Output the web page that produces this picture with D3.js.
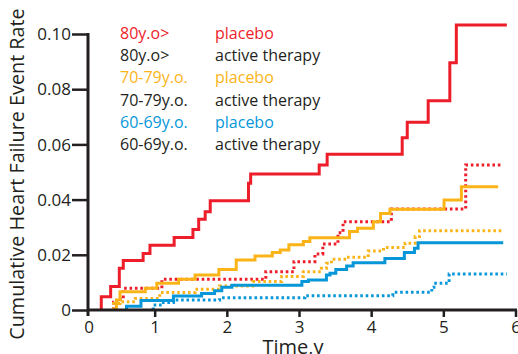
<!DOCTYPE html>
<html>
<head>
<meta charset="utf-8">
<script src="https://cdn.jsdelivr.net/npm/d3@7"></script>
<style>
  body { margin: 0; background: #fff; }
  text { font-family: "Open Sans", sans-serif; fill: #231f20; }
</style>
</head>
<body>
<div id="chart"></div>
<script>
// step data: [time (y), cumulative rate]
const red80Placebo = [[0.26,0],[0.26,0.0048],[0.39,0.0085],[0.51,0.0151],[0.565,0.0179],[0.84,0.0205],[0.935,0.0235],
  [1.27,0.0263],[1.53,0.0292],[1.61,0.0329],[1.70,0.0356],[1.77,0.0396],[2.30,0.0459],[2.33,0.0493],[3.28,0.0525],
  [3.39,0.0564],[4.43,0.0624],[4.50,0.068],[4.79,0.0758],[5.09,0.0896],[5.18,0.1033],[5.88,0.1033]];
const red80Active = [[0.43,0],[0.43,0.0028],[0.47,0.0039],[0.565,0.0079],[1.10,0.0111],[2.54,0.0139],[2.93,0.0175],
  [3.22,0.0203],[3.33,0.0239],[3.54,0.028],[3.61,0.032],[4.28,0.0366],[5.31,0.0525],[5.81,0.0525]];
const orange70Placebo = [[0.47,0],[0.47,0.0036],[0.52,0.0066],[0.87,0.0079],[1.03,0.0097],[1.33,0.0111],[1.56,0.0127],
  [1.89,0.0147],[2.13,0.0181],[2.39,0.0196],[2.63,0.0208],[2.74,0.0217],[2.86,0.0236],[3.06,0.0248],[3.15,0.0262],
  [3.70,0.0284],[3.81,0.0296],[4.03,0.032],[4.13,0.035],[4.26,0.0365],[5.01,0.0399],[5.25,0.0447],[5.76,0.0447]];
const orange70Active = [[0.43,0],[0.43,0.0024],[0.52,0.003],[0.73,0.0042],[1.07,0.0063],[1.56,0.0075],[1.90,0.0087],
  [2.36,0.0103],[2.76,0.0121],[3.06,0.0139],[3.31,0.0151],[3.38,0.0169],[3.45,0.0184],[3.66,0.0191],[3.96,0.0214],
  [4.17,0.0226],[4.47,0.0242],[4.61,0.0266],[4.67,0.0287],[5.81,0.0287]];
const blue60Placebo = [[0.61,0],[0.61,0.0014],[0.81,0.0034],[1.26,0.0051],[1.65,0.006],[1.83,0.007],[1.93,0.0082],
  [2.07,0.009],[3.04,0.0103],[3.13,0.0109],[3.38,0.0127],[3.43,0.0133],[3.51,0.0147],[3.66,0.0159],[3.75,0.0171],
  [4.19,0.0187],[4.46,0.0208],[4.60,0.0224],[4.65,0.0244],[5.83,0.0244]];
const blue60Active = [[0.98,0],[0.98,0.0018],[1.10,0.0027],[1.26,0.0036],[1.90,0.0044],[3.08,0.0052],[4.30,0.0064],
  [4.84,0.0082],[4.87,0.0097],[5.08,0.013],[5.88,0.013]];

const xTicks = [0, 1, 2, 3, 4, 5, 6];
const yTicks = [0, 0.02, 0.04, 0.06, 0.08, 0.10];
const legendAges = ["80y.o>", "80y.o>", "70-79y.o.", "70-79y.o.", "60-69y.o.", "60-69y.o."];
const legendArms = ["placebo", "active therapy", "placebo", "active therapy", "placebo", "active therapy"];

const RED = "#ee1d2a", ORANGE = "#fbb417", BLUE = "#0797d9", INK = "#231f20";
const series = [
  {data: red80Placebo, color: RED, dotted: false},
  {data: red80Active, color: RED, dotted: true},
  {data: orange70Placebo, color: ORANGE, dotted: false},
  {data: orange70Active, color: ORANGE, dotted: true},
  {data: blue60Placebo, color: BLUE, dotted: false},
  {data: blue60Active, color: BLUE, dotted: true}
];
const legendColors = [RED, INK, ORANGE, INK, BLUE, INK];

const width = 518, height = 354;
const axisX = 88;

const x = d3.scaleLinear().domain([0, 6]).range([82.5, 515.5]);
const y = d3.scaleLinear().domain([0, 0.10]).range([310, 34]);

const svg = d3.select('#chart').append('svg')
  .attr('width', width)
  .attr('height', height);

// curves (dotted ones underneath)
const line = d3.line()
  .x(d => x(d[0]))
  .y(d => y(d[1]))
  .curve(d3.curveStepAfter);

const drawOrder = [1, 3, 5, 4, 2, 0];
svg.append('g').selectAll('path')
  .data(drawOrder.map(i => series[i]))
  .join('path')
  .attr('d', d => line(d.data))
  .attr('fill', 'none')
  .attr('stroke', d => d.color)
  .attr('stroke-width', 3)
  .attr('stroke-dasharray', d => d.dotted ? '2.6,2.8' : null);

// y axis
const yAxis = svg.append('g')
  .attr('transform', `translate(${axisX},0)`)
  .call(d3.axisLeft(y).tickValues(yTicks).tickSize(16).tickPadding(1)
    .tickFormat(d => d === 0 ? '0' : d3.format('.2f')(d)));
yAxis.select('.domain').remove();
yAxis.selectAll('.tick line').attr('stroke', INK).attr('stroke-width', 2.5);
yAxis.selectAll('.tick text').style('font-size', '17px').attr('dy', '0.34em');
svg.append('line')
  .attr('x1', axisX).attr('x2', axisX)
  .attr('y1', y(0.10) - 1).attr('y2', y(0) + 6)
  .attr('stroke', INK).attr('stroke-width', 3);

// x axis
const xAxis = svg.append('g')
  .attr('transform', `translate(0,${y(0)})`)
  .call(d3.axisBottom(x).tickValues(xTicks).tickSize(7).tickPadding(4)
    .tickFormat(d3.format('d')));
xAxis.select('.domain').remove();
xAxis.selectAll('.tick line').attr('stroke', INK).attr('stroke-width', 2.5);
xAxis.selectAll('.tick text').style('font-size', '17px');
// first tick sits on the y axis
xAxis.selectAll('.tick').filter(d => d === 0)
  .attr('transform', `translate(${axisX + 1},0)`)
  .select('line').remove();
svg.append('line')
  .attr('x1', axisX).attr('x2', x(6) + 1.5)
  .attr('y1', y(0)).attr('y2', y(0))
  .attr('stroke', INK).attr('stroke-width', 3);

// axis titles
svg.append('text')
  .attr('transform', `translate(24,${174}) rotate(-90)`)
  .attr('text-anchor', 'middle')
  .style('font-size', '19.8px')
  .text('Cumulative Heart Failure Event Rate');
svg.append('text')
  .attr('x', 293).attr('y', 354)
  .attr('text-anchor', 'middle')
  .style('font-size', '20px')
  .text('Time,y');

// legend
const legend = svg.append('g');
legend.selectAll('text.age')
  .data(legendAges)
  .join('text')
  .attr('class', 'age')
  .attr('x', 120)
  .attr('y', (d, i) => 39 + i * 22.2)
  .style('font-size', '16px')
  .style('fill', (d, i) => legendColors[i])
  .text(d => d);
legend.selectAll('text.arm')
  .data(legendArms)
  .join('text')
  .attr('class', 'arm')
  .attr('x', 215)
  .attr('y', (d, i) => 39 + i * 22.2)
  .style('font-size', '16px')
  .style('fill', (d, i) => legendColors[i])
  .text(d => d);
</script>
</body>
</html>
